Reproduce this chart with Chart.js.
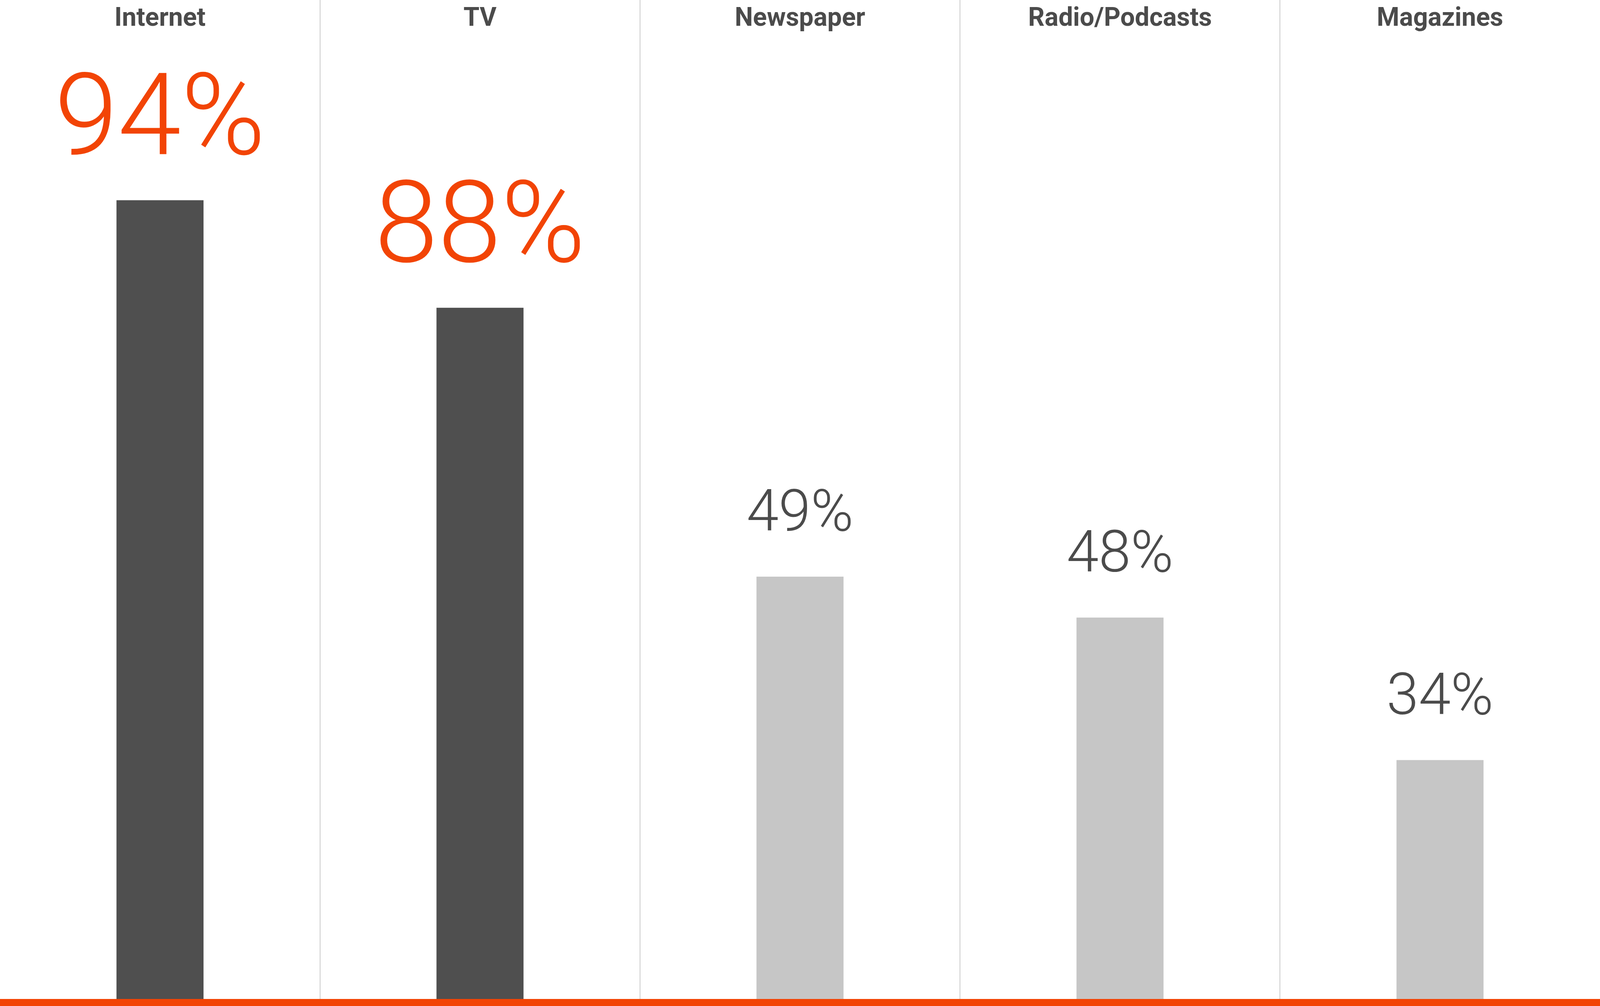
<!DOCTYPE html>
<html>
<head>
<meta charset="utf-8">
<title>Media reach</title>
<script src="https://cdn.jsdelivr.net/npm/chart.js@4.4.1/dist/chart.umd.min.js"></script>
<style>
  html, body { margin: 0; padding: 0; background: #ffffff; }
  #wrap { width: 100vw; height: 100vh; }
</style>
</head>
<body>
<div id="wrap"><canvas id="chart"></canvas></div>
<script>
// Values
const categories = ["Internet", "TV", "Newspaper", "Radio/Podcasts", "Magazines"]
// bar lengths as drawn (same scale as the 94% bar)
const barHeights = [94, 81.4, 49.9, 45.1, 28.4]
// figures printed above the bars
const shareLabels = ["94%", "88%", "49%", "48%", "34%"]

const ORANGE = "#f24405"
const DARK = "#4f4f4f"
const LIGHT = "#c6c6c6"
const TEXT = "#4b4b4b"
const GRID = "#dadada"
const highlighted = 2 // first two bars are emphasised

// Draw the percentage above each bar
const valueLabels = {
  id: "valueLabels",
  afterDatasetsDraw(chart) {
    const { ctx } = chart
    const meta = chart.getDatasetMeta(0)
    ctx.save()
    ctx.textAlign = "center"
    ctx.textBaseline = "alphabetic"
    meta.data.forEach((bar, i) => {
      const big = i < highlighted
      ctx.font = `300 ${big ? 292 : 148}px Roboto`
      ctx.fillStyle = big ? ORANGE : TEXT
      ctx.fillText(shareLabels[i], bar.x, bar.y - 118)
    })
    ctx.restore()
  },
}

new Chart(document.getElementById("chart"), {
  type: "bar",
  data: {
    labels: categories,
    datasets: [
      {
        data: barHeights,
        backgroundColor: (c) => (c.dataIndex < highlighted ? DARK : LIGHT),
        borderWidth: 0,
        categoryPercentage: 1,
        barPercentage: 0.272,
      },
    ],
  },
  options: {
    responsive: true,
    maintainAspectRatio: false,
    animation: false,
    layout: { padding: { bottom: 9 } },
    plugins: {
      legend: { display: false },
      tooltip: { enabled: false },
    },
    scales: {
      x: {
        type: "category",
        position: "top",
        offset: true,
        grid: {
          offset: true,
          drawTicks: true,
          tickLength: 10,
          lineWidth: 3,
          color: (c) => (c.index > 0 && c.index < categories.length ? GRID : "rgba(0,0,0,0)"),
        },
        border: { display: false },
        ticks: {
          mirror: true,
          padding: 0,
          maxRotation: 0,
          autoSkip: false,
          color: TEXT,
          font: { family: "Roboto", weight: "bold", size: 66, lineHeight: 1.2 },
        },
      },
      base: {
        type: "category",
        position: "bottom",
        offset: true,
        grid: { display: false, drawTicks: false },
        ticks: { display: false },
        border: { display: true, color: ORANGE, width: 18, z: 1 },
      },
      y: {
        display: false,
        min: 0,
        max: 117,
      },
    },
  },
  plugins: [valueLabels],
})
</script>
</body>
</html>
